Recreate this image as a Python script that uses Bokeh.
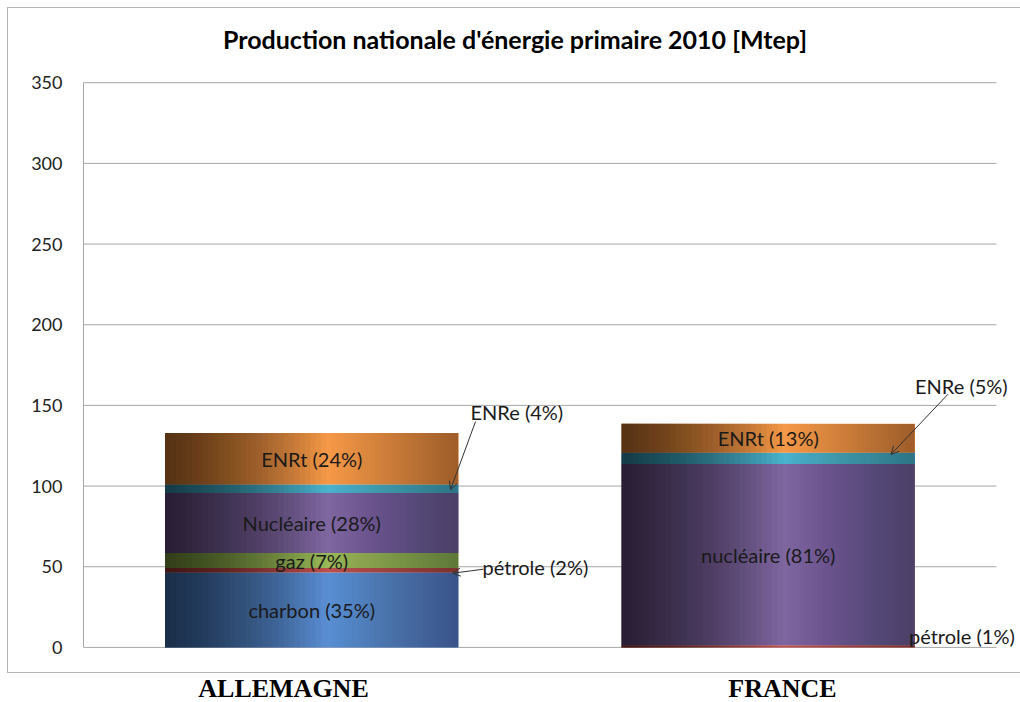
import numpy as np
from bokeh.plotting import figure
from bokeh.layouts import column
from bokeh.models import Range1d, FixedTicker, ColumnDataSource, Arrow, OpenHead
from bokeh.core.properties import value
from bokeh.embed import file_html
from bokeh.resources import INLINE

# ---------------- data ----------------
title = "Production nationale d'énergie primaire 2010 [Mtep]"
countries = ["ALLEMAGNE", "FRANCE"]
sources = ["charbon", "pétrole", "gaz", "nucléaire", "ENRe", "ENRt"]
allemagne = [46.5, 2.7, 9.3, 37.2, 5.3, 31.9]   # Mtep
france = [0.0, 1.4, 0.0, 112.3, 6.9, 18.0]       # Mtep
pct_allemagne = [35, 2, 7, 28, 4, 24]
pct_france = [0, 1, 0, 81, 5, 13]
names_allemagne = ["charbon", "pétrole", "gaz", "Nucléaire", "ENRe", "ENRt"]
names_france = ["charbon", "pétrole", "gaz", "nucléaire", "ENRe", "ENRt"]
y_ticks = [0, 50, 100, 150, 200, 250, 300, 350]

colors = ["#5b90d6", "#c0504d", "#9bbb59", "#8068a3", "#4bb5d0", "#f89a48"]
FONT = "Lato"
BORDER = "1px solid #b4b4b4"

# ---------------- geometry (pixels) ----------------
LEFT_PANEL = 75          # y-axis panel width inside the bordered chart area
RIGHT_PANEL = 5
FRAME_W = 932            # plot frame width
FRAME_H = 664            # plot frame height (from chart top border to bottom border)
PX_X = 456.0             # px per category unit
PX_Y = 563.0 / 350.0     # px per Mtep
ABOVE = 74               # px between frame top and the 350 grid line
BELOW = 27               # px between the 0 line and the bottom border

bar_w = 0.643
x_pos = [i + 0.5 for i in range(len(countries))]
x_rng = Range1d(0, FRAME_W / PX_X)

p = figure(frame_width=FRAME_W, frame_height=FRAME_H, output_backend="svg",
           toolbar_location=None, x_range=x_rng,
           y_range=Range1d(-BELOW / PX_Y, 350 + ABOVE / PX_Y),
           min_border_left=LEFT_PANEL, min_border_right=RIGHT_PANEL, min_border_top=0,
           min_border_bottom=0, margin=(7, 0, 0, 7),
           styles={"border-left": BORDER, "border-top": BORDER, "border-bottom": BORDER,
                   "border-right": "none"})
p.outline_line_color = None
p.background_fill_color = "white"
p.border_fill_color = "white"

# gridlines from the y tick values, across the two category bands
p.segment(x0=[0] * len(y_ticks), x1=[len(countries)] * len(y_ticks),
          y0=y_ticks, y1=y_ticks, line_color="#a6a6a6", line_width=1)

# title (inside the chart area)
p.text(x=[np.mean(x_pos)], y=[350 + (ABOVE - 30) / PX_Y], text=[title],
       x_offset=-25, text_align="center", text_baseline="middle",
       text_font=value(FONT), text_font_style="bold", text_font_size="25px",
       text_color="black")

# ---- stacked bars ----
data_sets = [allemagne, france]
pcts = [pct_allemagne, pct_france]
names = [names_allemagne, names_france]
for ci, vals in enumerate(data_sets):
    bottoms = np.concatenate([[0], np.cumsum(vals)[:-1]])
    tops = np.cumsum(vals)
    L = x_pos[ci] - bar_w / 2
    R = x_pos[ci] + bar_w / 2
    src = ColumnDataSource(dict(left=[L] * len(vals), right=[R] * len(vals),
                                bottom=bottoms, top=tops, color=colors))
    p.quad(left="left", right="right", bottom="bottom", top="top",
           fill_color="color", line_color=None, source=src)
    # cylinder-like shading: nested translucent rectangles (no seams)
    n = 30
    wl = np.linspace(0.55, 0.02, n) * bar_w
    p.quad(left=[L] * n, right=list(L + wl), bottom=0, top=tops[-1],
           fill_color="black", fill_alpha=0.032, line_color=None)
    wr = np.linspace(0.45, 0.02, n) * bar_w
    p.quad(left=list(R - wr), right=[R] * n, bottom=0, top=tops[-1],
           fill_color="black", fill_alpha=0.013, line_color=None)

# ---- labels inside bars ----
lx, ly, lt = [], [], []
inside = [[0, 2, 3, 5], [3, 5]]
for ci, vals in enumerate(data_sets):
    cum = np.cumsum(vals)
    for k in inside[ci]:
        lx.append(x_pos[ci])
        ly.append(cum[k] - vals[k] / 2)
        lt.append(f"{names[ci][k]} ({pcts[ci][k]}%)")
p.text(x=lx, y=ly, text=lt, text_align="center", text_baseline="middle",
       text_font=value(FONT), text_font_size="20px", text_color="#1a1a1a")

# ---- outside labels with arrows ----
# (country index, source index, text px offset, arrow start px, arrow end px)
outside = [
    (0, 4, (12, -77), (17, -67), (-8, 1)),
    (0, 1, (24, -3), (25, -1), (-6, 3)),
    (1, 4, (0, -72), (33, -64), (-24, -4)),
    (1, 1, (-6, -10), None, None),
]
for ci, k, toff, a0, a1 in outside:
    vals = data_sets[ci]
    cum = np.cumsum(vals)
    ax = x_pos[ci] + bar_w / 2
    ay = cum[k] - vals[k] / 2
    p.text(x=[ax], y=[ay], text=[f"{names[ci][k]} ({pcts[ci][k]}%)"],
           x_offset=toff[0], y_offset=toff[1],
           text_align="left", text_baseline="middle",
           text_font=value(FONT), text_font_size="20px", text_color="#1a1a1a")
    if a0 is not None:
        p.add_layout(Arrow(x_start=ax + a0[0] / PX_X, y_start=ay - a0[1] / PX_Y,
                           x_end=ax + a1[0] / PX_X, y_end=ay - a1[1] / PX_Y,
                           line_color="#333333", line_width=1,
                           end=OpenHead(size=8, line_color="#333333", line_width=1)))

# ---- axes ----
p.yaxis.ticker = FixedTicker(ticks=y_ticks)
p.yaxis.bounds = (0, 350)
p.yaxis.major_tick_line_color = None
p.yaxis.minor_tick_line_color = None
p.yaxis.major_tick_out = 0
p.yaxis.major_tick_in = 0
p.yaxis.axis_line_color = "#a6a6a6"
p.yaxis.major_label_text_font = FONT
p.yaxis.major_label_text_font_size = "18px"
p.yaxis.major_label_text_color = "#222222"
p.yaxis.major_label_standoff = 21

p.xaxis.visible = False
p.xgrid.grid_line_color = None
p.ygrid.grid_line_color = None

# ---- country labels below the chart frame ----
p2 = figure(frame_width=FRAME_W, frame_height=29, output_backend="svg",
            toolbar_location=None, x_range=x_rng, y_range=Range1d(0, 1),
            min_border_left=LEFT_PANEL, min_border_right=RIGHT_PANEL, min_border_top=0,
            min_border_bottom=0, margin=(0, 0, 0, 8))
p2.outline_line_color = None
p2.axis.visible = False
p2.grid.grid_line_color = None
p2.text(x=x_pos, y=[0.5] * len(x_pos), text=countries, x_offset=[-28, 15],
        text_align="center", text_baseline="middle",
        text_font=value("Liberation Serif"), text_font_style="bold",
        text_font_size="26px", text_color="black")

layout = column(p, p2, spacing=0)
open("out.html", "w").write(file_html(layout, INLINE))
